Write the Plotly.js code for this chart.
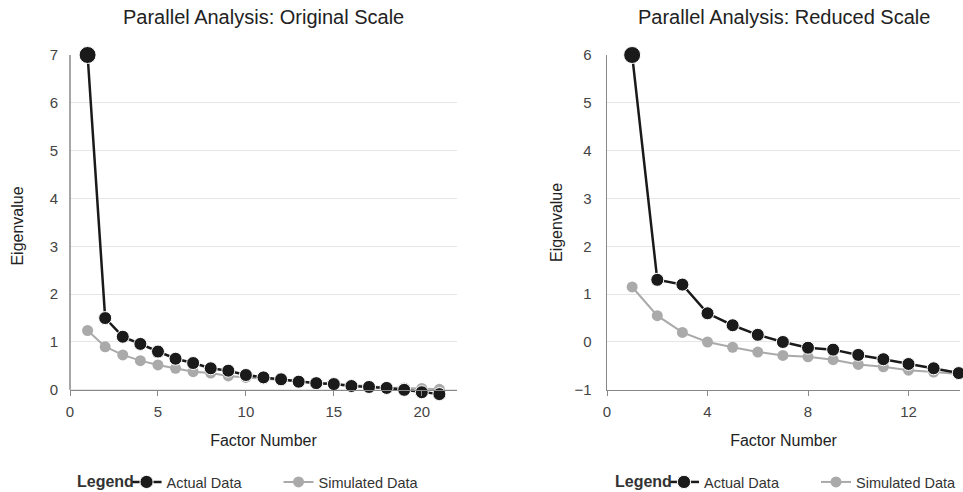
<!DOCTYPE html>
<html>
<head>
<meta charset="utf-8">
<script src="https://cdn.plot.ly/plotly-3.0.1.min.js"></script>
<style>html,body{margin:0;padding:0;background:#fff;}#chart{width:963px;height:492px;}</style>
</head>
<body>
<div id="chart"></div>
<script>
// Original scale
var factorsOrig = [1,2,3,4,5,6,7,8,9,10,11,12,13,14,15,16,17,18,19,20,21];
var actualOrig = [7.0,1.50,1.11,0.96,0.80,0.65,0.56,0.45,0.40,0.31,0.26,0.22,0.17,0.14,0.12,0.08,0.06,0.04,0.0,-0.05,-0.09];
var simOrig = [1.24,0.90,0.73,0.61,0.52,0.45,0.38,0.35,0.29,0.26,0.23,0.20,0.17,0.14,0.12,0.10,0.07,0.05,0.04,0.03,0.01];
// Reduced scale
var factorsRed = [1,2,3,4,5,6,7,8,9,10,11,12,13,14];
var actualRed = [6.0,1.30,1.20,0.60,0.35,0.15,0.0,-0.12,-0.16,-0.27,-0.36,-0.46,-0.55,-0.65];
var simRed = [1.15,0.55,0.20,0.0,-0.11,-0.21,-0.28,-0.31,-0.37,-0.47,-0.52,-0.59,-0.63,-0.67];

var titles = ["Parallel Analysis: Original Scale", "Parallel Analysis: Reduced Scale"];
var legendTitle = "Legend";
var names = ["Actual Data", "Simulated Data"];
var xTitle = "Factor Number", yTitle = "Eigenvalue";

var dark = "#1a1a1a", grey = "#aaaaaa";
var FONT = "Liberation Sans, Arial, sans-serif";
function bigFirst(arr){ return arr.map(function(v,i){ return i===0 ? 17 : 13; }); }

var data = [
  {x: factorsOrig, y: simOrig, name: names[1], mode: "lines+markers", xaxis: "x", yaxis: "y", legend: "legend",
   line: {color: grey, width: 2}, marker: {color: grey, size: 11, opacity: 1}, cliponaxis: false, legendrank: 2},
  {x: factorsOrig, y: actualOrig, name: names[0], mode: "lines+markers", xaxis: "x", yaxis: "y", legend: "legend",
   line: {color: dark, width: 2.5}, marker: {color: dark, size: bigFirst(actualOrig), opacity: 1}, cliponaxis: false, legendrank: 1},
  {x: factorsRed, y: simRed, name: names[1], mode: "lines+markers", xaxis: "x2", yaxis: "y2", legend: "legend2",
   line: {color: grey, width: 2}, marker: {color: grey, size: 11, opacity: 1}, cliponaxis: false, legendrank: 2},
  {x: factorsRed, y: actualRed, name: names[0], mode: "lines+markers", xaxis: "x2", yaxis: "y2", legend: "legend2",
   line: {color: dark, width: 2.5}, marker: {color: dark, size: bigFirst(actualRed), opacity: 1}, cliponaxis: false, legendrank: 1}
];

var axisFont = {family: FONT, size: 15, color: "#444"};
var titleFont = {family: FONT, size: 16, color: "#222"};
var zeroPos = 0.021; // paper height fraction where the x axes sit
function xax(domain, range, dtick, anchorSpec){
  var a = {domain: domain, range: range, dtick: dtick, tick0: 0, showgrid: false, zeroline: false,
    showline: true, linecolor: "#888", linewidth: 1.5, ticks: "outside", ticklen: 5, tickcolor: "#888",
    ticklabelstandoff: 3, tickfont: axisFont, title: {text: xTitle, font: titleFont, standoff: 15}};
  for (var k in anchorSpec) a[k] = anchorSpec[k];
  return a;
}
function yax(range, anchor, domain, showline, standoff){
  return {range: range, domain: domain, dtick: 1, anchor: anchor, showgrid: true, gridcolor: "#e6e6e6", gridwidth: 1, zeroline: false,
    showline: showline, linecolor: "#888", linewidth: 1.5, ticks: "", ticklabelstandoff: 11, tickfont: axisFont,
    title: {text: yTitle, font: titleFont, standoff: standoff}};
}
function leg(x){
  return {orientation: "h", xref: "container", yref: "container", x: x, xanchor: "left", y: 0.0203, yanchor: "middle",
    font: {family: FONT, size: 14.5, color: "#333"}, bgcolor: "rgba(0,0,0,0)", traceorder: "normal",
    entrywidthmode: "pixels", entrywidth: 107};
}

var layout = {
  width: 963, height: 492,
  margin: {l: 70, r: 3, t: 55, b: 95},
  paper_bgcolor: "#fff", plot_bgcolor: "#fff",
  showlegend: true,
  xaxis: xax([0, 0.4348], [0, 22], 5, {anchor: "free", position: zeroPos}),
  yaxis: yax([-0.15, 7], "x", [0, 1], false, 22),
  xaxis2: xax([0.6034, 1], [0, 14.05], 4, {anchor: "y2"}),
  yaxis2: yax([-1, 6], "x2", [zeroPos, 1], true, 8),
  legend: leg(0.1314),
  legend2: leg(0.6895),
  shapes: [
    {type: "line", xref: "paper", yref: "y", x0: 0, x1: 0, y0: 0, y1: 7, line: {color: "#888", width: 1.5}, layer: "above"}
  ],
  annotations: [
    {text: titles[0], xref: "paper", yref: "paper", x: 0.2174, y: 1, yshift: 38, showarrow: false, xanchor: "center", yanchor: "middle", font: {family: FONT, size: 20, color: "#222"}},
    {text: titles[1], xref: "paper", yref: "paper", x: 0.8017, y: 1, yshift: 38, showarrow: false, xanchor: "center", yanchor: "middle", font: {family: FONT, size: 20, color: "#222"}},
    {text: "<b>" + legendTitle + "</b>", xref: "paper", yref: "paper", x: 0.0056, y: -0.2485, showarrow: false, xanchor: "left", yanchor: "middle", font: {family: FONT, size: 16, color: "#333"}},
    {text: "<b>" + legendTitle + "</b>", xref: "paper", yref: "paper", x: 0.610, y: -0.2485, showarrow: false, xanchor: "left", yanchor: "middle", font: {family: FONT, size: 16, color: "#333"}}
  ]
};

Plotly.newPlot("chart", data, layout, {displayModeBar: false, staticPlot: true});
</script>
</body>
</html>
